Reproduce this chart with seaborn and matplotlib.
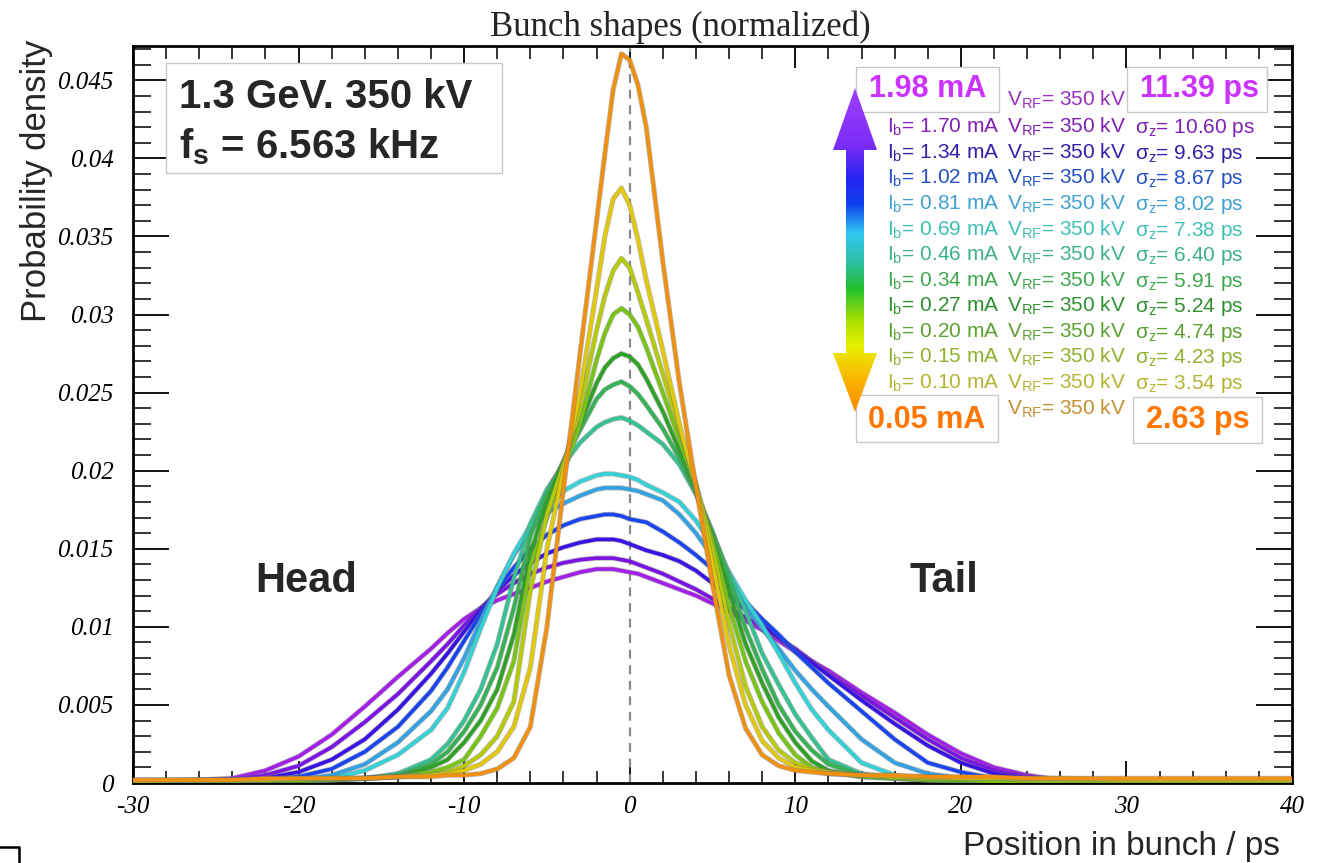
import numpy as np
import pandas as pd
import matplotlib
matplotlib.use("Agg")
import matplotlib.pyplot as plt
import matplotlib.patheffects as pe
from matplotlib.patches import Polygon, Rectangle
from matplotlib.lines import Line2D
from matplotlib.colors import LinearSegmentedColormap
from matplotlib.ticker import MultipleLocator
import seaborn as sns

# ---------------- data ----------------
position_ps = [-30, -26, -24, -22, -20, -18, -16, -14,
               -12, -11, -10, -9, -8, -7, -6, -5, -4, -3, -2,
               -1.5, -1, -0.5, 0, 0.5, 1,
               2, 3, 4, 5, 6, 7, 8, 9, 10, 11, 12,
               14, 16, 18, 20, 22, 24, 26, 30, 35, 40]

density_1p98 = [.0001, .0002, .0003, .0008, .0017, .0031, .0049, .0068,
                .0086, .0096, .0105, .0112, .0117, .0121, .0125, .0129, .0132, .0135, .0137,
                .0137, .0137, .0136, .0135, .0134, .0132,
                .0128, .0124, .0120, .0115, .0110, .0104, .0098, .0091, .0084, .0078, .0072,
                .0058, .0045, .0031, .0019, .0010, .0005, .0002, .0001, .0001, .0001]
density_1p70 = [.0001, .0001, .0002, .0005, .0011, .0023, .0039, .0057,
                .0078, .0089, .0101, .0112, .0121, .0128, .0134, .0138, .0141, .0143, .0144,
                .0144, .0144, .0143, .0142, .0140, .0138,
                .0134, .0129, .0124, .0118, .0112, .0106, .0100, .0093, .0086, .0078, .0070,
                .0056, .0042, .0028, .0016, .0008, .0004, .0002, .0001, .0001, .0001]
density_1p34 = [.0001, .0001, .0001, .0003, .0007, .0015, .0028, .0047,
                .0070, .0083, .0097, .0111, .0123, .0133, .0141, .0147, .0151, .0154, .0156,
                .0156, .0156, .0155, .0153, .0151, .0149,
                .0146, .0142, .0136, .0128, .0120, .0111, .0102, .0093, .0085, .0077, .0069,
                .0053, .0038, .0024, .0013, .0006, .0003, .0001, .0001, .0001, .0001]
density_1p02 = [.0001, .0001, .0001, .0002, .0004, .0009, .0020, .0036,
                .0059, .0074, .0091, .0108, .0124, .0138, .0150, .0159, .0165, .0169, .0171,
                .0172, .0172, .0171, .0169, .0168, .0167,
                .0161, .0154, .0146, .0137, .0127, .0116, .0105, .0095, .0084, .0074, .0064,
                .0046, .0028, .0013, .0007, .0003, .0002, .0001, .0001, .0001, .0001]
density_0p81 = [.0001, .0001, .0001, .0001, .0002, .0005, .0012, .0026,
                .0046, .0060, .0080, .0104, .0126, .0146, .0162, .0173, .0179, .0184, .0188,
                .0189, .0189, .0189, .0188, .0187, .0185,
                .0181, .0172, .0160, .0145, .0128, .0113, .0099, .0086, .0072, .0060, .0049,
                .0028, .0013, .0006, .0003, .0001, .0001, .0001, .0001, .0001, .0001]
density_0p69 = [.0001, .0001, .0001, .0001, .0001, .0003, .0008, .0018,
                .0034, .0048, .0071, .0099, .0125, .0147, .0165, .0178, .0187, .0193, .0197,
                .0198, .0198, .0197, .0196, .0194, .0191,
                .0186, .0180, .0168, .0152, .0135, .0117, .0101, .0083, .0064, .0047, .0034,
                .0013, .0005, .0002, .0001, .0001, .0001, .0001, .0001, .0001, .0001]
density_0p46 = [.0001, .0001, .0001, .0001, .0001, .0002, .0003, .0006,
                .0015, .0025, .0040, .0060, .0089, .0131, .0166, .0188, .0204, .0218, .0228,
                .0231, .0233, .0234, .0232, .0229, .0225,
                .0217, .0204, .0185, .0160, .0134, .0110, .0083, .0063, .0044, .0029, .0015,
                .0006, .0003, .0002, .0001, .0001, .0001, .0001, .0001, .0001, .0001]
density_0p34 = [.0001, .0001, .0001, .0001, .0001, .0002, .0003, .0005,
                .0012, .0020, .0033, .0050, .0074, .0112, .0158, .0185, .0206, .0226, .0246,
                .0252, .0255, .0257, .0254, .0249, .0242,
                .0227, .0208, .0186, .0161, .0131, .0099, .0073, .0050, .0033, .0021, .0012,
                .0005, .0003, .0002, .0001, .0001, .0001, .0001, .0001, .0001, .0001]
density_0p27 = [.0001, .0001, .0001, .0001, .0001, .0002, .0003, .0004,
                .0010, .0015, .0026, .0040, .0060, .0095, .0147, .0180, .0206, .0230, .0256,
                .0266, .0272, .0275, .0273, .0268, .0259,
                .0238, .0213, .0187, .0158, .0123, .0089, .0064, .0042, .0026, .0014, .0008,
                .0004, .0003, .0002, .0001, .0001, .0001, .0001, .0001, .0001, .0001]
density_0p20 = [.0001, .0001, .0001, .0002, .0002, .0002, .0003, .0004,
                .0007, .0010, .0015, .0030, .0048, .0078, .0139, .0170, .0199, .0230, .0271,
                .0288, .0300, .0304, .0300, .0292, .0279,
                .0250, .0220, .0190, .0155, .0113, .0078, .0052, .0032, .0018, .0010, .0007,
                .0004, .0003, .0002, .0002, .0001, .0001, .0001, .0001, .0001, .0001]
density_0p15 = [.0001, .0002, .0002, .0002, .0002, .0003, .0003, .0004,
                .0005, .0007, .0011, .0018, .0030, .0052, .0123, .0172, .0204, .0240, .0290,
                .0312, .0328, .0336, .0330, .0314, .0297,
                .0262, .0227, .0192, .0150, .0102, .0062, .0036, .0021, .0013, .0009, .0007,
                .0005, .0004, .0003, .0003, .0003, .0002, .0002, .0002, .0002, .0002]
density_0p10 = [.0002, .0002, .0002, .0002, .0003, .0003, .0003, .0004,
                .0005, .0006, .0008, .0012, .0020, .0036, .0074, .0150, .0200, .0250, .0316,
                .0350, .0374, .0381, .0370, .0348, .0322,
                .0277, .0230, .0190, .0140, .0088, .0050, .0027, .0016, .0010, .0008, .0006,
                .0005, .0004, .0004, .0003, .0003, .0003, .0003, .0002, .0002, .0002]
density_0p05 = [.0002, .0002, .0002, .0003, .0003, .0003, .0003, .0004,
                .0004, .0005, .0005, .0006, .0009, .0016, .0036, .0100, .0188, .0275, .0360,
                .0403, .0444, .0467, .0463, .0447, .0420,
                .0334, .0256, .0190, .0127, .0069, .0035, .0018, .0011, .0008, .0007, .0006,
                .0005, .0005, .0004, .0004, .0004, .0003, .0003, .0003, .0003, .0003]

bunch_current_mA = ["1.98", "1.70", "1.34", "1.02", "0.81", "0.69", "0.46",
                    "0.34", "0.27", "0.20", "0.15", "0.10", "0.05"]
bunch_length_ps = ["11.39", "10.60", "9.63", "8.67", "8.02", "7.38", "6.40",
                   "5.91", "5.24", "4.74", "4.23", "3.54", "2.63"]
rf_voltage_kV = "350"

x_tick_values = [-30, -20, -10, 0, 10, 20, 30, 40]
x_tick_labels = ["-30", "-20", "-10", "0", "10", "20", "30", "40"]
y_tick_values = [0, 0.005, 0.01, 0.015, 0.02, 0.025, 0.03, 0.035, 0.04, 0.045]
y_tick_labels = ["0", "0.005", "0.01", "0.015", "0.02", "0.025", "0.03",
                 "0.035", "0.04", "0.045"]

# ---------------- styling ----------------
curve_colors = ["#A41EEA", "#7A14E4", "#3A12E6", "#1A44F0", "#32A2E2", "#34D2D6",
                "#34C294", "#34B254", "#2EA224", "#78C412", "#B6CA06", "#E2C806", "#F0900E"]
text_colors = ["#9A30C0", "#8020B4", "#3420A8", "#2450C4", "#40A0D0", "#40C0B4",
               "#40B08C", "#40A850", "#309030", "#5EA032", "#92B030", "#B4B434", "#C49034"]
box_top_color = "#CC33FF"
box_bottom_color = "#FF7700"

sns.set_style("white")
plt.rcParams["font.family"] = ["Liberation Sans", "DejaVu Sans"]

W, H = 1328, 863
fig = plt.figure(figsize=(W / 100, H / 100), dpi=100)
ax_l, ax_r, ax_t, ax_b = 133, 1292, 46, 783
ax = fig.add_axes([ax_l / W, 1 - ax_b / H, (ax_r - ax_l) / W, (ax_b - ax_t) / H])

series = [density_1p98, density_1p70, density_1p34, density_1p02, density_0p81,
          density_0p69, density_0p46, density_0p34, density_0p27, density_0p20,
          density_0p15, density_0p10, density_0p05]
frames = [pd.DataFrame({"position": position_ps, "density": d, "current": c})
          for c, d in zip(bunch_current_mA, series)]
df = pd.concat(frames, ignore_index=True)

ax.axvline(0, color="#8a8a8a", lw=1.6, ls=(0, (4, 3)), zorder=1.5)

sns.lineplot(data=df, x="position", y="density", hue="current",
             hue_order=bunch_current_mA, palette=dict(zip(bunch_current_mA, curve_colors)),
             estimator=None, sort=False, linewidth=2.6, legend=False, ax=ax, zorder=3)
for ln in ax.lines[1:]:
    ln.set_path_effects([pe.Stroke(linewidth=3.7, foreground="#707070", alpha=0.5),
                         pe.Normal()])
    ln.set_solid_joinstyle("round")
    ln.set_solid_capstyle("round")

ax.set_xlim(-30, 40)
ax.set_ylim(0, 0.0472)
ax.set_xlabel("")
ax.set_ylabel("")
ax.set_xticks(x_tick_values)
ax.set_xticklabels(x_tick_labels)
ax.set_yticks(y_tick_values)
ax.set_yticklabels(y_tick_labels)
ax.xaxis.set_minor_locator(MultipleLocator(2))
ax.yaxis.set_minor_locator(MultipleLocator(0.001))
ax.tick_params(axis="x", which="major", direction="in", length=16, width=1.3,
               top=True, bottom=True, pad=9, labelsize=18, colors="black")
ax.tick_params(axis="x", which="minor", direction="in", length=9, width=1.3,
               top=True, bottom=True)
ax.tick_params(axis="y", which="major", direction="in", length=26, width=1.3,
               left=True, right=True, pad=14, labelsize=18, colors="black")
ax.tick_params(axis="y", which="minor", direction="in", length=13, width=1.3,
               left=True, right=True)
for lab in ax.get_xticklabels() + ax.get_yticklabels():
    lab.set_fontfamily("Liberation Serif")
    lab.set_fontstyle("italic")
for sp in ax.spines.values():
    sp.set_linewidth(2.0)
    sp.set_color("black")
ax.grid(False)


def fx(x):
    return x / W


def fy(y):
    return 1 - y / H


def ftext(x, y, s, **kw):
    return fig.text(fx(x), fy(y), s, **kw)


def fbox(x0, y0, x1, y1):
    fig.add_artist(Rectangle((fx(x0), fy(y1)), (x1 - x0) / W, (y1 - y0) / H,
                             transform=fig.transFigure, facecolor="white",
                             edgecolor="#c8c8c8", lw=1.0, zorder=2))


# title and axis titles
ftext(490, 36, "Bunch shapes (normalized)", ha="left", va="baseline",
      fontfamily="Liberation Serif", fontsize=25)
ftext(1280, 855, "Position in bunch / ps", ha="right", va="baseline", fontsize=24)
ftext(37, 40, "Probability density", ha="center", va="top", rotation=90, fontsize=25)

# Head / Tail labels
ftext(255, 592, "Head", ha="left", va="baseline", fontsize=30, fontweight="bold")
ftext(910, 592, "Tail", ha="left", va="baseline", fontsize=30, fontweight="bold")

# info box
fbox(166, 63, 502, 173)
ftext(179, 108, "1.3 GeV. 350 kV", ha="left", va="baseline", fontsize=29,
      fontweight="bold", zorder=4)
ftext(179, 158, "$\\mathregular{f_{s}}$ = 6.563 kHz", ha="left", va="baseline",
      fontsize=29, fontweight="bold", zorder=4)

# legend boxes
fbox(856, 67, 999, 112)
fbox(1127, 67, 1267, 112)
fbox(856, 395, 998, 442)
fbox(1133, 397, 1262, 443)
ftext(928, 97, bunch_current_mA[0] + " mA", ha="center", va="baseline", fontsize=22,
      fontweight="bold", color=box_top_color, zorder=4)
ftext(1199, 97, bunch_length_ps[0] + " ps", ha="center", va="baseline", fontsize=22,
      fontweight="bold", color=box_top_color, zorder=4)
ftext(927, 428, bunch_current_mA[-1] + " mA", ha="center", va="baseline", fontsize=22,
      fontweight="bold", color=box_bottom_color, zorder=4)
ftext(1198, 428, bunch_length_ps[-1] + " ps", ha="center", va="baseline", fontsize=22,
      fontweight="bold", color=box_bottom_color, zorder=4)

# legend rows
row_baselines = [106, 133, 158.6, 184, 210, 235.5, 261, 287, 312, 338, 363, 389, 415]
for i, (cur, sig) in enumerate(zip(bunch_current_mA, bunch_length_ps)):
    yb = row_baselines[i]
    col = text_colors[i]
    ftext(1007, yb, "$\\mathregular{V_{RF}}$= " + rf_voltage_kV + " kV", ha="left",
          va="baseline", fontsize=15, color=col, zorder=4)
    if 0 < i < len(bunch_current_mA) - 1:
        ftext(887, yb, "$\\mathregular{I_{b}}$= " + cur + " mA", ha="left",
              va="baseline", fontsize=15, color=col, zorder=4)
        ftext(1135, yb, "$\\mathregular{σ_{z}}$= " + sig + " ps", ha="left",
              va="baseline", fontsize=15, color=col, zorder=4)

# gradient double arrow
ax_arrow = fig.add_axes([fx(828), fy(416), 56 / W, 332 / H], zorder=5)
ax_arrow.set_xlim(828, 884)
ax_arrow.set_ylim(416, 84)
ax_arrow.axis("off")
grad_cmap = LinearSegmentedColormap.from_list(
    "arrowgrad",
    [(0.00, "#A040FF"), (0.18, "#7A2CF5"), (0.28, "#2424F0"), (0.36, "#1040F0"),
     (0.45, "#30C8F0"), (0.53, "#30C0B0"), (0.62, "#20C030"), (0.72, "#A8E000"),
     (0.80, "#E8F000"), (0.88, "#F8C000"), (1.00, "#FF8800")])
grad = np.linspace(0, 1, 256).reshape(-1, 1)
im = ax_arrow.imshow(grad, cmap=grad_cmap, aspect="auto",
                     extent=(828, 884, 412, 88), interpolation="bilinear")
cx, hw, sw = 855, 22, 9
arrow_pts = [(cx, 88), (cx + hw, 150), (cx + sw, 150), (cx + sw, 353), (cx + hw, 353),
             (cx, 412), (cx - hw, 353), (cx - sw, 353), (cx - sw, 150), (cx - hw, 150)]
poly = Polygon(arrow_pts, closed=True, facecolor="none", edgecolor="none",
               transform=ax_arrow.transData)
ax_arrow.add_patch(poly)
im.set_clip_path(poly)

# small frame corner at bottom-left
fig.add_artist(Line2D([fx(0), fx(19), fx(19)], [fy(847), fy(847), fy(863)],
                      transform=fig.transFigure, color="black", lw=1.8))

fig.savefig("out.png", dpi=100)
